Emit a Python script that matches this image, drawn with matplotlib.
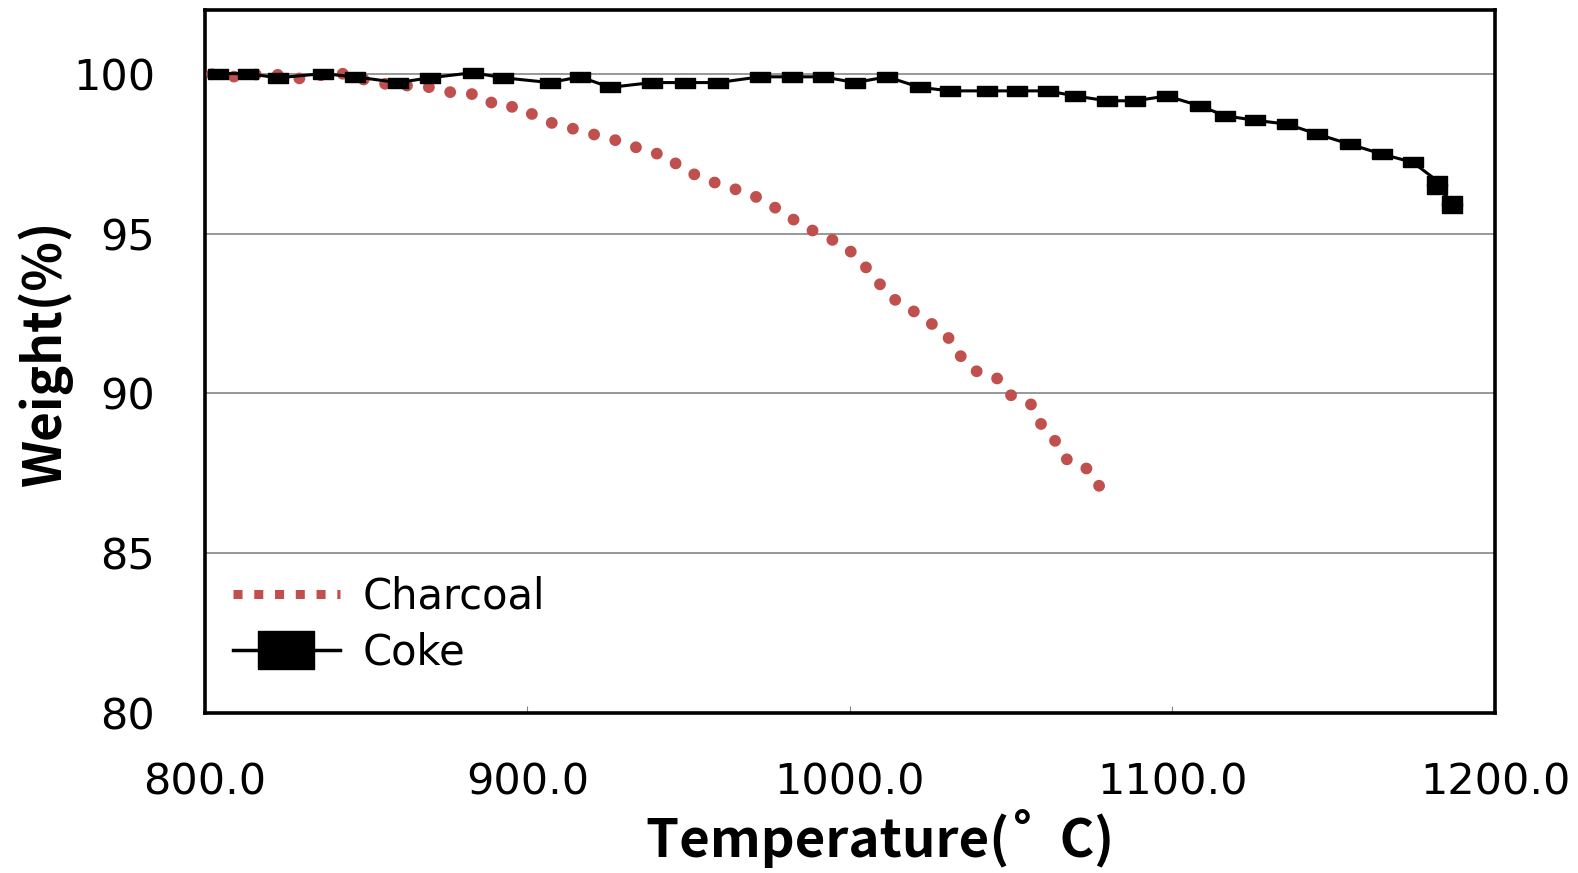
import matplotlib
matplotlib.use("Agg")
import matplotlib.pyplot as plt
from matplotlib.lines import Line2D

plt.rcParams['font.family'] = ['DejaVu Sans']

# 데이터
charcoal_temp = [802.2, 809.6, 816.4, 823.3, 830.4, 837.2, 844.0, 850.5, 857.7, 864.2,
                 871.3, 878.1, 884.7, 890.9, 898.0, 903.6, 910.1, 916.9, 923.7, 930.5,
                 936.1, 943.3, 947.9, 954.7, 961.2, 968.1, 974.3, 980.2, 986.4, 992.6,
                 998.8, 1003.7, 1008.1, 1012.7, 1018.9, 1024.8, 1030.1, 1033.8, 1039.1, 1045.3,
                 1049.6, 1056.1, 1059.2, 1063.9, 1067.6, 1074.1, 1077.8]
charcoal_weight = [99.99, 99.91, 99.99, 99.97, 99.84, 99.99, 100.01, 99.78, 99.66, 99.63,
                   99.57, 99.37, 99.37, 98.97, 98.97, 98.60, 98.38, 98.22, 98.01, 97.85,
                   97.59, 97.44, 97.02, 96.73, 96.48, 96.29, 95.98, 95.59, 95.19, 94.91,
                   94.58, 94.10, 93.56, 93.01, 92.63, 92.22, 91.81, 91.22, 90.70, 90.51,
                   89.96, 89.66, 89.05, 88.48, 87.88, 87.62, 87.02]

coke_temp = [804.0, 813.3, 822.6, 836.6, 846.5, 859.8, 869.8, 883.1, 892.4, 907.0,
             916.3, 925.6, 938.6, 948.8, 959.1, 972.1, 982.0, 991.6, 1001.6, 1011.5,
             1021.7, 1031.0, 1042.5, 1051.8, 1061.4, 1069.8, 1079.7, 1088.4, 1098.3, 1108.5,
             1116.3, 1125.6, 1135.5, 1144.8, 1155.0, 1165.0, 1174.6, 1182.0, 1182.0, 1186.7,
             1186.7]
coke_weight = [100.01, 100.01, 99.88, 100.01, 99.91, 99.73, 99.88, 100.04, 99.88, 99.73,
               99.91, 99.58, 99.73, 99.73, 99.73, 99.91, 99.91, 99.91, 99.73, 99.91,
               99.58, 99.47, 99.47, 99.47, 99.47, 99.31, 99.16, 99.16, 99.31, 99.0,
               98.69, 98.55, 98.43, 98.12, 97.80, 97.49, 97.23, 96.66, 96.41, 96.03,
               95.81]

x_ticks = [800, 900, 1000, 1100, 1200]
y_ticks = [80, 85, 90, 95, 100]

red = '#C0504D'
rect_marker = [(-1, -0.5), (1, -0.5), (1, 0.5), (-1, 0.5), (-1, -0.5)]
legend_rect = [(-1, -0.7), (1, -0.7), (1, 0.7), (-1, 0.7), (-1, -0.7)]

fig = plt.figure(figsize=(15.78, 8.73), dpi=100)
ax = fig.add_axes([0.1299, 0.1833, 0.8175, 0.8052])

# 그리드
for y in [85, 90, 95, 100]:
    ax.axhline(y, color='#868686', lw=1.2, zorder=1)

ax.plot(charcoal_temp, charcoal_weight, color=red, lw=8.5, linestyle=(0, (0.01, 1.85)),
        dash_capstyle='round', zorder=3)
ax.plot(coke_temp, coke_weight, color='black', lw=2.2, marker=rect_marker,
        markersize=15, zorder=4)

ax.set_xlim(800, 1200)
ax.set_ylim(80, 102)
ax.set_xticks(x_ticks)
ax.set_xticklabels([f"{v:.1f}" for v in x_ticks])
ax.set_yticks(y_ticks)
ax.tick_params(axis='x', direction='in', length=5, color='#868686', labelsize=31, pad=35)
ax.tick_params(axis='y', length=0, labelsize=31, pad=36)

for s in ax.spines.values():
    s.set_linewidth(2.6)
    s.set_color('black')

bold_font = ['Noto Sans CJK KR', 'DejaVu Sans']
fig.text(0.0287, 0.5945, "Weight(%)", rotation=90, fontsize=37, fontweight='bold',
         family=bold_font, ha='center', va='center')
fig.text(0.5577, 0.040, "Temperature(\u02da  C)", fontsize=38, fontweight='bold',
         family=bold_font, ha='center', va='center')

handles = [
    Line2D([], [], color=red, lw=6.5, linestyle=(0, (1, 1.3)), dash_capstyle='butt'),
    Line2D([], [], color='black', lw=2.5, marker=legend_rect, markersize=40),
]
ax.legend(handles, ["Charcoal", "Coke"], loc='lower left', bbox_to_anchor=(0.022, 0.056),
          frameon=False, fontsize=30, handlelength=2.55, handletextpad=0.55,
          labelspacing=0.33, borderpad=0, borderaxespad=0)

plt.savefig("out.png", dpi=100)
